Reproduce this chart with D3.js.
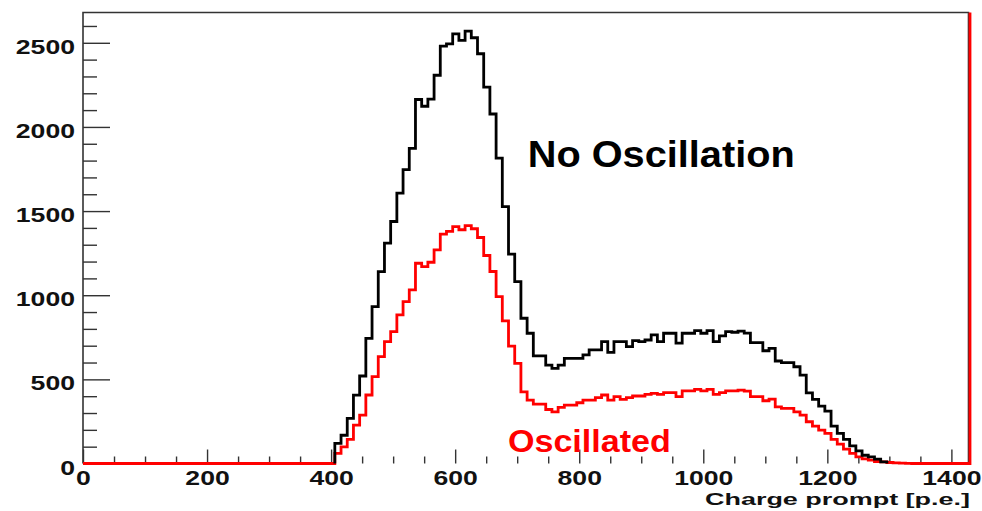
<!DOCTYPE html>
<html>
<head>
<meta charset="utf-8">
<script src="https://cdn.jsdelivr.net/npm/d3@7"></script>
<style>
  body { margin: 0; background: #fff; }
  svg { display: block; }
  text { font-family: "Liberation Sans", Arial, sans-serif; font-weight: bold; }
</style>
</head>
<body>
<svg width="982" height="511"></svg>
<script>
// histogram bins: 10 p.e. wide, first bin edge
const binStart = 406;
const binWidth = 10;

// "No Oscillation" counts per bin (black)
const noOscCounts = [
  119, 168, 268, 406, 520, 744, 932, 1140, 1310, 1438,
  1607, 1746, 1873, 2163, 2123, 2165, 2307, 2480, 2494, 2553,
  2514, 2569, 2530, 2435, 2236, 2077, 1815, 1527, 1244, 1081,
  863, 774, 639, 639, 585, 565, 585, 625, 625, 625,
  645, 675, 675, 724, 660, 724, 724, 694, 730, 724,
  734, 764, 724, 774, 774, 715, 774, 774, 790, 774,
  790, 724, 758, 784, 780, 787, 775, 718, 718, 670,
  684, 609, 599, 599, 575, 525, 420, 381, 341, 311,
  222, 179, 143, 105, 75, 49, 39, 26, 10
];

// "Oscillated" counts per bin (red)
const oscCounts = [
  60, 99, 143, 228, 288, 407, 516, 635, 724, 784,
  883, 962, 1032, 1190, 1170, 1196, 1270, 1363, 1379, 1408,
  1389, 1414, 1395, 1343, 1236, 1141, 992, 848, 698, 595,
  426, 377, 353, 353, 321, 307, 333, 347, 347, 361,
  377, 377, 392, 407, 377, 397, 381, 392, 401, 401,
  411, 417, 411, 421, 421, 397, 432, 432, 440, 432,
  440, 411, 421, 432, 432, 436, 430, 397, 397, 373,
  383, 337, 327, 327, 307, 288, 248, 222, 198, 179,
  143, 115, 85, 60, 39, 27, 20, 12, 10, 6,
  4, 2, 1
];

const xMajorTicks = [0, 200, 400, 600, 800, 1000, 1200, 1400];
const yMajorTicks = [0, 500, 1000, 1500, 2000, 2500];
const xAxisLabel = 'Charge prompt [p.e.]';
const labelNoOsc = {text: 'No Oscillation', x: 717, y: 1764};
const labelOsc = {text: 'Oscillated', x: 685, y: 69};

function whenLoaded(){
    const svg = d3.select('svg');
    const width = +svg.attr('width');
    const height = +svg.attr('height');

    const margin = {top: 12.5, right: 12, bottom: 47.5, left: 83};
    const innerWidth = width - margin.left - margin.right;
    const innerHeight = height - margin.top - margin.bottom;

    const xMax = 1430;
    const yMax = 2680;

    const xScale = d3.scaleLinear().domain([0, xMax]).range([0, innerWidth]);
    const yScale = d3.scaleLinear().domain([0, yMax]).range([innerHeight, 0]);

    const g = svg.append('g')
        .attr('transform', `translate(${margin.left},${margin.top})`);

    // frame
    g.append('path')
        .attr('d', `M${innerWidth - 1.5},${innerHeight} V0 H0 V${innerHeight}`)
        .attr('fill', 'none')
        .attr('stroke', '#333')
        .attr('stroke-width', 1.6);

    const digitW = 14.8;
    const fitText = sel => sel
        .attr('textLength', function(){ return this.textContent.length * digitW; })
        .attr('lengthAdjust', 'spacingAndGlyphs');
    const plain = d3.format('d');

    // y axis: major + minor ticks pointing inward
    const yMinor = d3.range(0, yMax, 100).filter(v => v % 500 !== 0);
    const yMinorG = g.append('g').call(d3.axisLeft(yScale).tickValues(yMinor).tickSize(-14).tickFormat(''));
    const yAxisG = g.append('g').call(d3.axisLeft(yScale).tickValues(yMajorTicks).tickSize(-27).tickPadding(8).tickFormat(plain));
    [yMinorG, yAxisG].forEach(a => {
        a.selectAll('.domain').remove();
        a.selectAll('line').attr('stroke', '#333').attr('stroke-width', 1.4);
    });
    yAxisG.selectAll('text')
        .attr('font-size', 21)
        .attr('fill', '#111')
        .attr('dy', '0.5em')
        .call(fitText);

    // x axis
    const xMinor = d3.range(0, xMax, 50).filter(v => v % 200 !== 0);
    const xMinorG = g.append('g').attr('transform', `translate(0,${innerHeight})`)
        .call(d3.axisBottom(xScale).tickValues(xMinor).tickSize(-7).tickFormat(''));
    const xAxisG = g.append('g').attr('transform', `translate(0,${innerHeight})`)
        .call(d3.axisBottom(xScale).tickValues(xMajorTicks).tickSize(-14).tickPadding(7.5).tickFormat(plain));
    [xMinorG, xAxisG].forEach(a => {
        a.selectAll('.domain').remove();
        a.selectAll('line').attr('stroke', '#333').attr('stroke-width', 1.4);
    });
    xAxisG.selectAll('text')
        .attr('font-size', 20)
        .attr('fill', '#111')
        .call(fitText);

    xAxisG.append('text')
        .attr('x', innerWidth)
        .attr('y', 41)
        .attr('fill', '#111')
        .attr('font-size', 16)
        .style('text-anchor', 'end')
        .attr('textLength', 265)
        .attr('lengthAdjust', 'spacingAndGlyphs')
        .text(xAxisLabel);

    // step outline of a histogram
    const stepPoints = counts => {
        const pts = [[binStart, 0]];
        counts.forEach((c, i) => {
            const lo = binStart + i * binWidth;
            pts.push([lo, c], [lo + binWidth, c]);
        });
        pts.push([binStart + counts.length * binWidth, 0]);
        return pts;
    };

    const line = d3.line()
        .x(d => xScale(d[0]))
        .y(d => yScale(d[1]));

    const redPts = [[0, 0], ...stepPoints(oscCounts), [xMax, 0], [xMax, yMax]];

    g.append('path')
        .attr('d', line(redPts))
        .attr('fill', 'none')
        .attr('stroke', '#ff0000')
        .attr('stroke-width', 2.8)
        .attr('stroke-linejoin', 'miter');

    g.append('path')
        .attr('d', line(stepPoints(noOscCounts)))
        .attr('fill', 'none')
        .attr('stroke', '#000')
        .attr('stroke-width', 2.8)
        .attr('stroke-linejoin', 'miter');

    // annotations
    g.append('text')
        .attr('x', xScale(labelNoOsc.x))
        .attr('y', yScale(labelNoOsc.y))
        .attr('font-size', 37)
        .attr('fill', '#000')
        .attr('textLength', 267)
        .attr('lengthAdjust', 'spacingAndGlyphs')
        .text(labelNoOsc.text);

    g.append('text')
        .attr('x', xScale(labelOsc.x))
        .attr('y', yScale(labelOsc.y))
        .attr('font-size', 32)
        .attr('fill', '#ff0000')
        .attr('textLength', 163)
        .attr('lengthAdjust', 'spacingAndGlyphs')
        .text(labelOsc.text);
}

window.onload = whenLoaded;
</script>
</body>
</html>
